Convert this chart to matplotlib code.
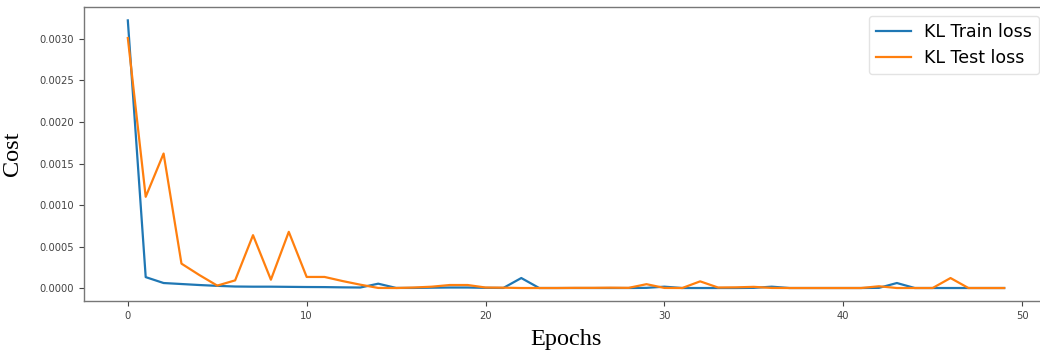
import matplotlib
matplotlib.use("Agg")
import matplotlib.pyplot as plt
from matplotlib.ticker import FormatStrFormatter

epochs = list(range(50))

train_loss = [
    0.00322, 0.000135, 0.000064, 0.000052, 0.00004, 0.00003, 0.000022, 0.00002, 0.00002, 0.000018,
    0.000016, 0.000015, 0.000012, 0.00001, 0.000056, 0.000005, 0.000005, 0.000008, 0.00001, 0.00001,
    0.000006, 0.000005, 0.000124, 0.000004, 0.000004, 0.000004, 0.000004, 0.000004, 0.000004, 0.000006,
    0.00002, 0.000004, 0.000004, 0.000004, 0.000004, 0.000006, 0.00002, 0.000004, 0.000004, 0.000004,
    0.000004, 0.000004, 0.000006, 0.000064, 0.000004, 0.000004, 0.000004, 0.000004, 0.000004, 0.000004,
]

test_loss = [
    0.003008, 0.0011, 0.00162, 0.000297, 0.00016, 0.000033, 0.000096, 0.000639, 0.000104, 0.000679,
    0.000137, 0.000137, 0.000088, 0.000044, 0.000005, 0.000004, 0.00001, 0.00002, 0.00004, 0.00004,
    0.00001, 0.000008, 0.000004, 0.000004, 0.000004, 0.000006, 0.000006, 0.000008, 0.000006, 0.00005,
    0.000005, 0.000004, 0.000084, 0.00001, 0.000012, 0.000018, 0.000005, 0.000004, 0.000004, 0.000004,
    0.000004, 0.000004, 0.000025, 0.000004, 0.000004, 0.000004, 0.000124, 0.000004, 0.000004, 0.000004,
]

series_labels = ["KL Train loss", "KL Test loss"]
x_ticks = [0, 10, 20, 30, 40, 50]
y_ticks = [0.0, 0.0005, 0.0010, 0.0015, 0.0020, 0.0025, 0.0030]

fig = plt.figure(figsize=(10.4, 3.51), dpi=100)
ax = fig.add_axes([84 / 1040, 49.6 / 351, 964 / 1040, 294.4 / 351])

ax.plot(epochs, train_loss, color="#1f77b4", lw=1.6, label=series_labels[0])
ax.plot(epochs, test_loss, color="#ff7f0e", lw=1.6, label=series_labels[1])

ax.set_xticks(x_ticks)
ax.set_yticks(y_ticks)
ax.yaxis.set_major_formatter(FormatStrFormatter("%.4f"))
ax.tick_params(labelsize=7.2, colors="#444444", length=3.5, width=0.8)
for sp in ax.spines.values():
    sp.set_color("#777777")
    sp.set_linewidth(1.0)
ax.spines["right"].set_visible(False)

ax.set_xlabel("Epochs", family="Liberation Serif", fontsize=17.5, labelpad=6)
ax.set_ylabel("Cost", family="Liberation Serif", fontsize=17.5, labelpad=12)

leg = ax.legend(loc="upper right", fontsize=12.5, frameon=True)
leg.get_frame().set_edgecolor("#dddddd")

fig.savefig("out.png", dpi=100)
